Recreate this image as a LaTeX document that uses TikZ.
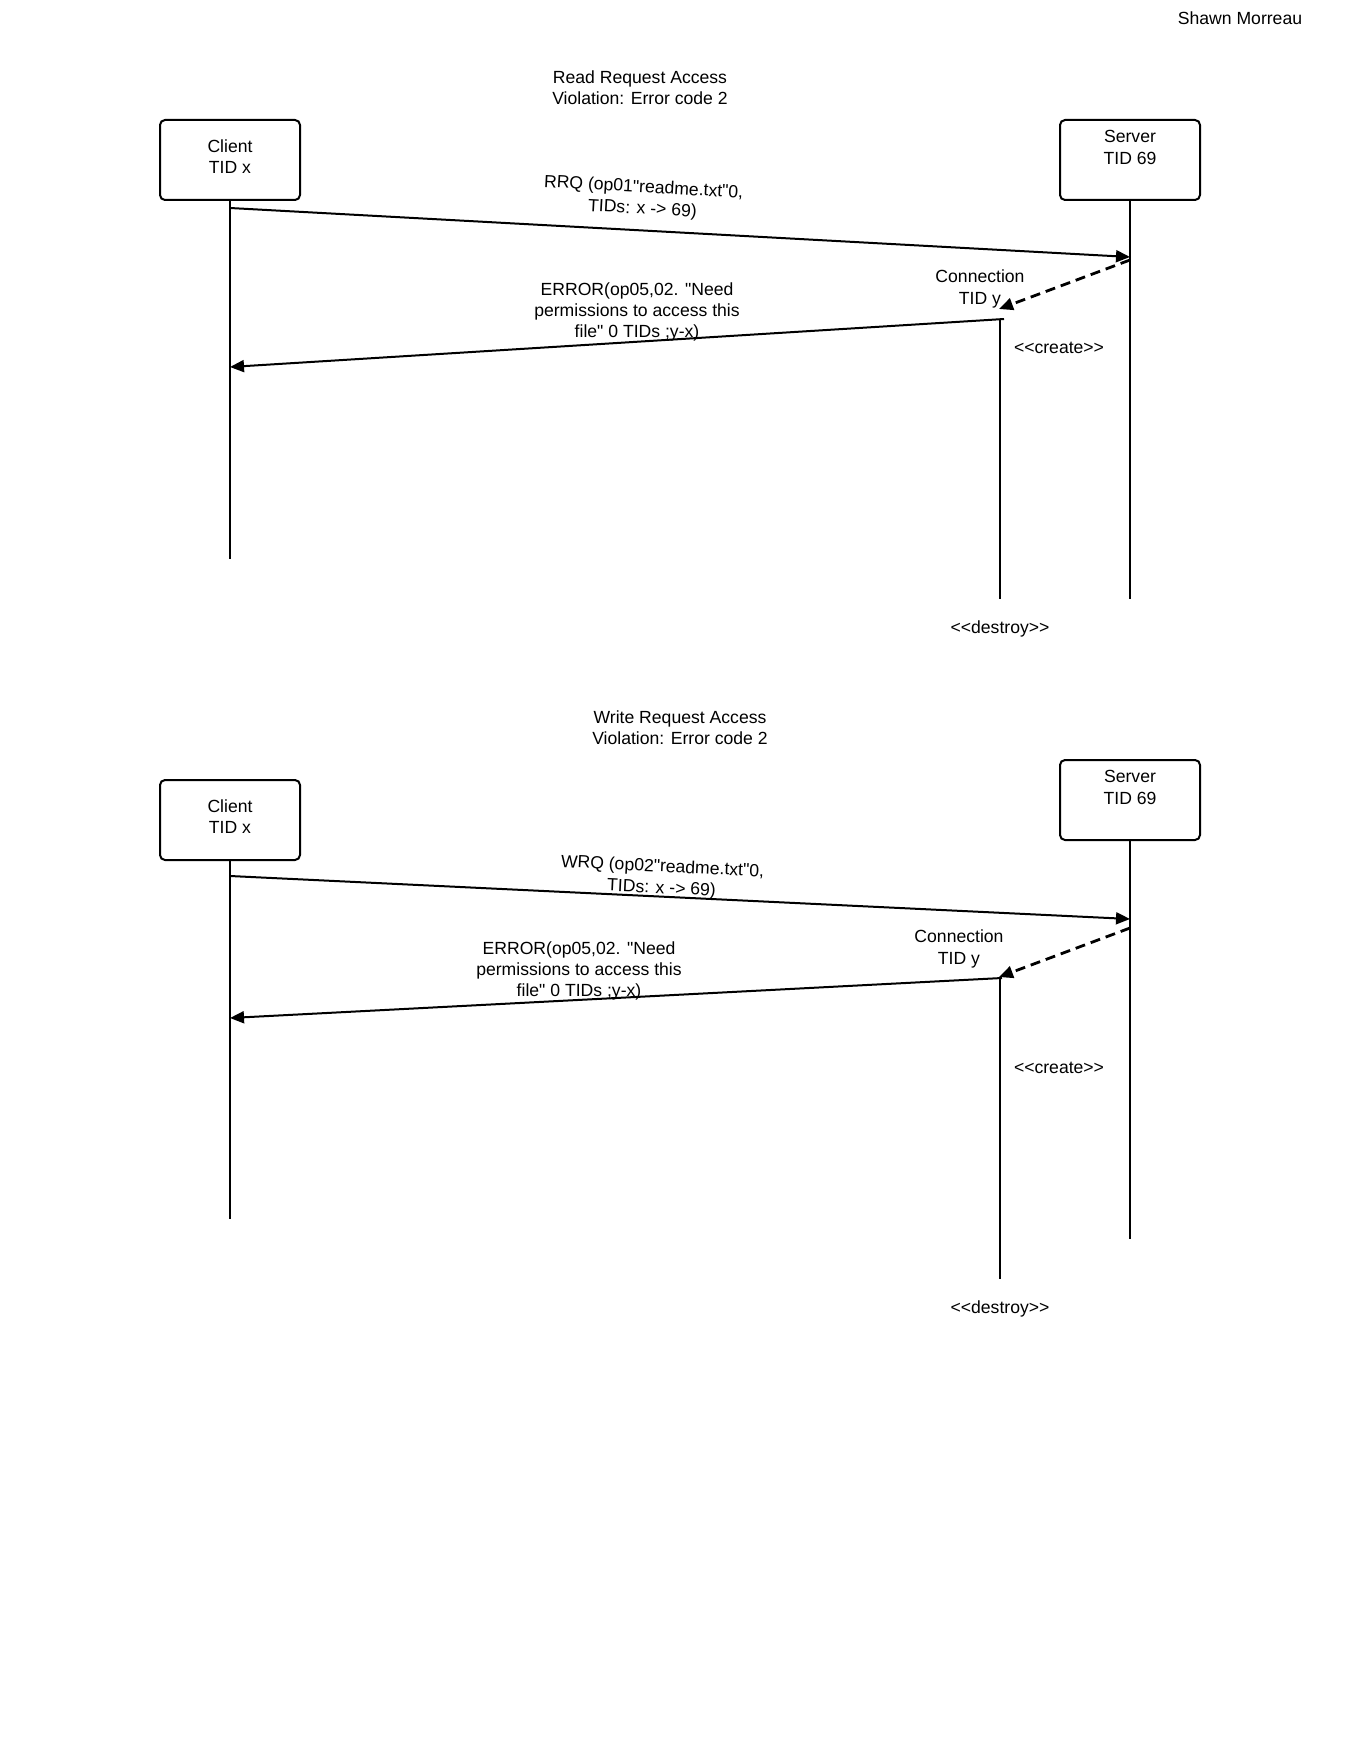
\documentclass[tikz,border=0pt]{standalone}
\usepackage{fontspec}
\setmainfont{Liberation Sans}[Ligatures=TeXOff]
\usetikzlibrary{arrows.meta}

\begin{document}
\begin{tikzpicture}[x=0.5pt, y=-0.5pt, line width=1pt,
	every node/.style={font=\fontsize{8.8}{10.7}\selectfont, align=center},
	>={Triangle[length=7pt, width=6pt]},
	actor/.style={draw, rounded corners=2.5pt, minimum width=70pt, minimum height=40pt, text depth=3.4pt},
	upper/.style={actor, text depth=12.7pt},
	msg/.style={->},
	newmsg/.style={->, line width=1.4pt, dash pattern=on 5pt off 3pt}]
	\useasboundingbox (0,0) rectangle (1360,1760);
	\node (author) at (1240,18) {Shawn Morreau};

	% read request
	\node (rtitle) at (640,88) {Read Request Access\\Violation: Error code 2};
	\node[actor] (rclient) at (230,160) {Client\\TID x};
	\node[upper] (rserver) at (1130,160) {Server\\TID 69};
	\node (rconn) at (980,289) {Connection\\TID y};
	\coordinate (rcend) at (230,559);
	\coordinate (rsend) at (1130,599);
	\coordinate (rktop) at (1000,319);
	\coordinate (rkend) at (1000,599);
	\coordinate (rc1) at (230,208);
	\coordinate (rs1) at (1130,257);
	\coordinate (rs2) at (1130,260);
	\coordinate (rk1) at (999,309);
	\coordinate (rk2) at (1004,319);
	\coordinate (rc2) at (230,367);
	\draw (rclient) -- (rcend);
	\draw (rserver) -- (rsend);
	\draw (rktop) -- (rkend);
	\draw[msg] (rc1) -- node[pos=0.457, sloped, above=5.9pt, inner sep=0pt] (rrq) {RRQ (op01"readme.txt"0,\\TIDs: x -> 69)} (rs1);
	\draw[newmsg] (rs2) -- (rk1);
	\draw[msg] (rk2) -- (rc2);
	\node (rerr) at (637,312) {ERROR(op05,02. "Need\\permissions to access this\\file" 0 TIDs ;y-x)};
	\node (rcreate) at (1059,348) {<<create>>};
	\node (rdestroy) at (1000,629) {<<destroy>>};

	% write request
	\node (wtitle) at (680,728) {Write Request Access\\Violation: Error code 2};
	\node[actor] (wclient) at (230,820) {Client\\TID x};
	\node[upper] (wserver) at (1130,800) {Server\\TID 69};
	\node (wconn) at (959,949) {Connection\\TID y};
	\coordinate (wcend) at (230,1219);
	\coordinate (wsend) at (1130,1239);
	\coordinate (wktop) at (1000,978);
	\coordinate (wkend) at (1000,1279);
	\coordinate (wc1) at (230,876);
	\coordinate (ws1) at (1130,919);
	\coordinate (ws2) at (1130,928);
	\coordinate (wk1) at (999,977);
	\coordinate (wk2) at (1002,978);
	\coordinate (wc2) at (230,1018);
	\draw (wclient) -- (wcend);
	\draw (wserver) -- (wsend);
	\draw (wktop) -- (wkend);
	\draw[msg] (wc1) -- node[pos=0.479, sloped, above=-0.7pt, inner sep=0pt] (wrq) {WRQ (op02"readme.txt"0,\\TIDs: x -> 69)} (ws1);
	\draw[newmsg] (ws2) -- (wk1);
	\draw[msg] (wk2) -- (wc2);
	\node (werr) at (579,971) {ERROR(op05,02. "Need\\permissions to access this\\file" 0 TIDs ;y-x)};
	\node (wcreate) at (1059,1068) {<<create>>};
	\node (wdestroy) at (1000,1309) {<<destroy>>};
\end{tikzpicture}
\end{document}
